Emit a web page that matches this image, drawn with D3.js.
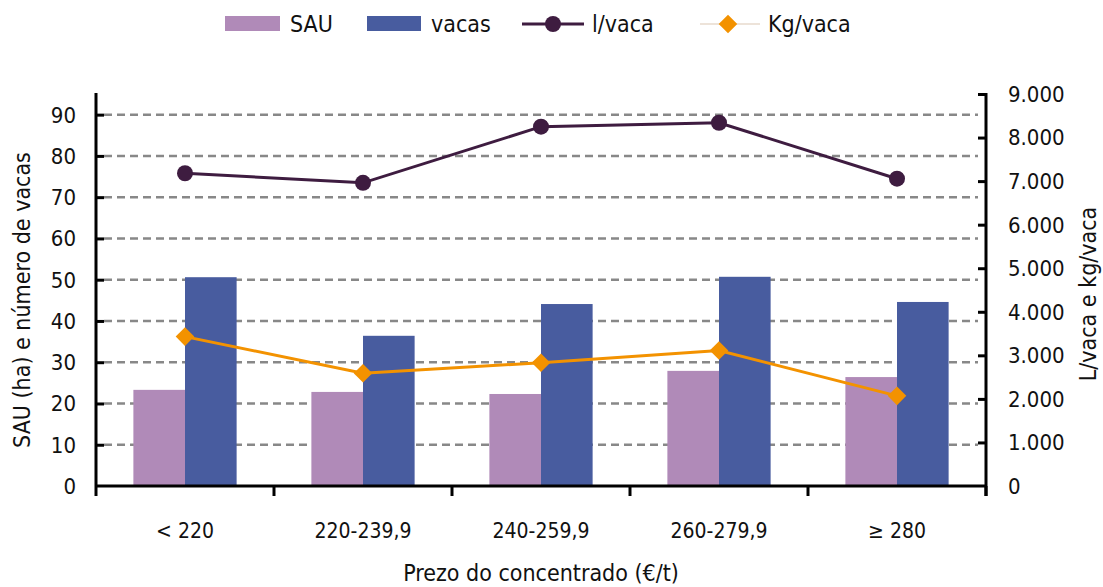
<!DOCTYPE html>
<html>
<head>
<meta charset="utf-8">
<script src="https://cdn.jsdelivr.net/npm/d3@7.9.0/dist/d3.min.js"></script>
<style>
  body { margin: 0; background: #fff; }
  svg { display: block; font-family: "DejaVu Sans Condensed", "DejaVu Sans", sans-serif; }
</style>
</head>
<body>
<svg id="chart" width="1103" height="587"></svg>
<script>
const categories = ['< 220', '220-239,9', '240-259,9', '260-279,9', '≥ 280'];
const sau = [23.3, 22.8, 22.3, 27.9, 26.4];
const vacas = [50.6, 36.4, 44.1, 50.7, 44.6];
const lVaca = [7180, 6960, 8250, 8340, 7055];
const kgVaca = [3430, 2590, 2830, 3110, 2070];
const leftTicks = [0, 10, 20, 30, 40, 50, 60, 70, 80, 90];
const rightTicks = [0, 1000, 2000, 3000, 4000, 5000, 6000, 7000, 8000, 9000];

const colors = { sau: '#b08ab8', vacas: '#485c9f', l: '#3e1c40', kg: '#f39200' };

const svg = d3.select('#chart');
const plotL = 96, plotR = 986, plotT = 94, plotB = 486;

const x = d3.scaleBand().domain(categories).range([plotL, plotR]).paddingInner(0.42).paddingOuter(0.21);
const xc = d3.scaleBand().domain(categories).range([plotL, plotR]);
const yL = d3.scaleLinear().domain([0, 95]).range([plotB, plotT]);
const yR = d3.scaleLinear().domain([0, 9000]).range([plotB, plotT]);
const sub = d3.scaleBand().domain(['sau', 'vacas']).range([0, x.bandwidth()]);

// gridlines
svg.append('g')
  .selectAll('line')
  .data(leftTicks.filter(d => d > 0))
  .join('line')
  .attr('x1', plotL + 8).attr('x2', plotR - 8)
  .attr('y1', d => yL(d)).attr('y2', d => yL(d))
  .attr('stroke', '#888').attr('stroke-width', 2.5)
  .attr('stroke-dasharray', '8,5');

// bars
const groups = svg.append('g')
  .selectAll('g')
  .data(categories)
  .join('g')
  .attr('transform', d => `translate(${x(d)},0)`);

groups.append('rect')
  .attr('x', sub('sau')).attr('width', sub.bandwidth())
  .attr('y', (d, i) => yL(sau[i])).attr('height', (d, i) => plotB - yL(sau[i]))
  .attr('fill', colors.sau);

groups.append('rect')
  .attr('x', sub('vacas')).attr('width', sub.bandwidth())
  .attr('y', (d, i) => yL(vacas[i])).attr('height', (d, i) => plotB - yL(vacas[i]))
  .attr('fill', colors.vacas);

// lines
const cx = d => xc(d) + xc.bandwidth() / 2;
const line = d3.line().x(d => cx(d[0])).y(d => yR(d[1]));

svg.append('path')
  .datum(categories.map((c, i) => [c, lVaca[i]]))
  .attr('d', line).attr('fill', 'none')
  .attr('stroke', colors.l).attr('stroke-width', 3);
svg.append('g').selectAll('circle')
  .data(categories.map((c, i) => [c, lVaca[i]]))
  .join('circle')
  .attr('cx', d => cx(d[0])).attr('cy', d => yR(d[1])).attr('r', 8)
  .attr('fill', colors.l);

svg.append('path')
  .datum(categories.map((c, i) => [c, kgVaca[i]]))
  .attr('d', line).attr('fill', 'none')
  .attr('stroke', colors.kg).attr('stroke-width', 3);
const diamond = d3.symbol().type(d3.symbolDiamond2).size(220);
svg.append('g').selectAll('path')
  .data(categories.map((c, i) => [c, kgVaca[i]]))
  .join('path')
  .attr('d', diamond)
  .attr('transform', d => `translate(${cx(d[0])},${yR(d[1])})`)
  .attr('fill', colors.kg);

// axes
const axL = svg.append('g')
  .attr('transform', `translate(${plotL},0)`)
  .call(d3.axisRight(yL).tickValues(leftTicks).tickSize(8).tickFormat(''));
axL.select('.domain').attr('d', `M0,${plotT - 1}V${plotB}`);
axL.selectAll('.tick').filter(d => d === 0).remove();
svg.append('g').selectAll('text')
  .data(leftTicks).join('text')
  .attr('x', 76).attr('y', d => yL(d)).attr('dy', '0.36em')
  .attr('text-anchor', 'end').attr('font-size', 22).attr('fill', '#111')
  .text(d => d);

const axR = svg.append('g')
  .attr('transform', `translate(${plotR},0)`)
  .call(d3.axisLeft(yR).tickValues(rightTicks).tickSize(8).tickFormat(''));
axR.select('.domain').attr('d', `M0,${plotT - 1}V${plotB + 10}`);
axR.selectAll('.tick').filter(d => d === 0).remove();
const fmt = d => d === 0 ? '0' : d3.format(',')(d).replace(/,/g, '.');
svg.append('g').selectAll('text')
  .data(rightTicks).join('text')
  .attr('x', 1008).attr('y', d => yR(d)).attr('dy', '0.36em')
  .attr('text-anchor', 'start').attr('font-size', 22).attr('fill', '#111')
  .text(fmt);

const axB = svg.append('g')
  .attr('transform', `translate(0,${plotB})`)
  .call(d3.axisBottom(xc).tickSize(0).tickFormat(''));
axB.select('.domain').attr('d', `M${plotL - 1},0H${plotR + 1}`);
axB.append('g').selectAll('line')
  .data(d3.range(categories.length + 1)).join('line')
  .attr('x1', i => plotL + i * xc.step()).attr('x2', i => plotL + i * xc.step())
  .attr('y1', 0).attr('y2', 10);
svg.append('g').selectAll('text')
  .data(categories).join('text')
  .attr('x', cx).attr('y', 530).attr('dy', '0.36em')
  .attr('text-anchor', 'middle').attr('font-size', 21).attr('fill', '#111')
  .text(d => d);

svg.selectAll('.domain, .tick line').attr('stroke', '#000').attr('stroke-width', 3);
axB.selectAll('line').attr('stroke', '#000').attr('stroke-width', 3);

// titles
svg.append('text')
  .attr('transform', 'translate(30,300) rotate(-90)')
  .attr('text-anchor', 'middle').attr('font-size', 23).attr('fill', '#111')
  .text('SAU (ha) e número de vacas');
svg.append('text')
  .attr('transform', 'translate(1096,294) rotate(-90)')
  .attr('text-anchor', 'middle').attr('font-size', 23).attr('fill', '#111')
  .text('L/vaca e kg/vaca');
svg.append('text')
  .attr('x', 541).attr('y', 581)
  .attr('text-anchor', 'middle').attr('font-size', 23).attr('fill', '#111')
  .text('Prezo do concentrado (€/t)');

// legend
const lg = svg.append('g').attr('font-size', 23).attr('fill', '#111');
lg.append('rect').attr('x', 225).attr('y', 16).attr('width', 55).attr('height', 15).attr('fill', colors.sau);
lg.append('text').attr('x', 290).attr('y', 24).attr('dy', '0.36em').text('SAU');
lg.append('rect').attr('x', 367).attr('y', 16).attr('width', 54).attr('height', 15).attr('fill', colors.vacas);
lg.append('text').attr('x', 431).attr('y', 24).attr('dy', '0.36em').text('vacas');
lg.append('line').attr('x1', 522).attr('x2', 584).attr('y1', 24).attr('y2', 24)
  .attr('stroke', colors.l).attr('stroke-width', 3);
lg.append('circle').attr('cx', 553).attr('cy', 24).attr('r', 8).attr('fill', colors.l);
lg.append('text').attr('x', 592).attr('y', 24).attr('dy', '0.36em').text('l/vaca');
lg.append('line').attr('x1', 700).attr('x2', 760).attr('y1', 24).attr('y2', 24)
  .attr('stroke', '#dcc8b4').attr('stroke-width', 1.2);
lg.append('path').attr('d', diamond).attr('transform', 'translate(728,24)').attr('fill', colors.kg);
lg.append('text').attr('x', 768).attr('y', 24).attr('dy', '0.36em').text('Kg/vaca');
</script>
</body>
</html>
